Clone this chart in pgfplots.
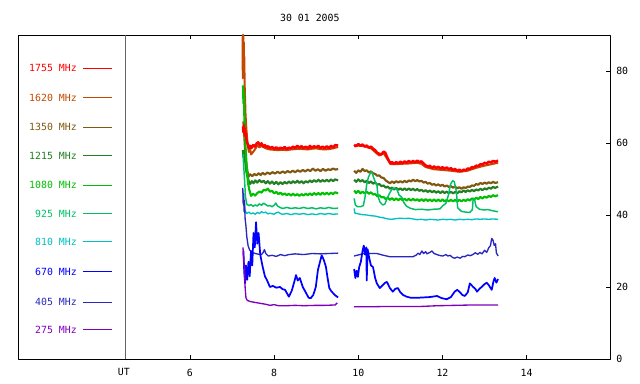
\documentclass[border=0pt]{standalone}
\usepackage{pgfplots}
\pgfplotsset{compat=1.18}
\usepackage{fontspec}
\setmainfont{DejaVu Sans Mono}
\definecolor{c1755}{RGB}{255,0,0}
\definecolor{c1620}{RGB}{196,72,0}
\definecolor{c1350}{RGB}{128,88,16}
\definecolor{c1215}{RGB}{34,128,34}
\definecolor{c1080}{RGB}{0,192,0}
\definecolor{c925}{RGB}{0,192,100}
\definecolor{c810}{RGB}{0,192,192}
\definecolor{c670}{RGB}{0,0,255}
\definecolor{c405}{RGB}{40,40,190}
\definecolor{c275}{RGB}{128,0,192}
\definecolor{cgray}{RGB}{100,100,100}
\begin{document}
\begin{tikzpicture}[line join=round]
\pgfplotsset{
  s/.style={no marks, line join=round},
}
\begin{axis}[
  name=ax,
  scale only axis,
  width=444pt, height=243pt,
  xmin=1.914, xmax=15.98, ymin=0, ymax=90,
  axis line style={line width=0.6pt},
  xtick={6,8,10,12,14},
  ytick={0,20,40,60,80},
  xtick pos=both, ytick pos=right, yticklabel pos=right,
  tick align=inside, major tick length=3pt,
  tick style={line width=0.6pt, black},
  font=\fontsize{7.4}{8}\selectfont,
  /pgf/number format/assume math mode=true,
  xticklabel style={anchor=center, yshift=-10.5pt},
  yticklabel style={anchor=west, inner sep=0pt, xshift=4.5pt},
  clip mode=individual,
]
% UT separator
\addplot[s, color=cgray, line width=0.7pt] coordinates {(4.456,0) (4.456,90)};
% legend samples
\addplot[s, color=c1755, line width=0.75pt] coordinates {(3.458,80.8) (4.147,80.8)};
\addplot[s, color=c1620, line width=0.75pt] coordinates {(3.458,72.5) (4.147,72.5)};
\addplot[s, color=c1350, line width=0.75pt] coordinates {(3.458,64.4) (4.147,64.4)};
\addplot[s, color=c1215, line width=0.75pt] coordinates {(3.458,56.4) (4.147,56.4)};
\addplot[s, color=c1080, line width=0.75pt] coordinates {(3.458,48.3) (4.147,48.3)};
\addplot[s, color=c925, line width=0.75pt] coordinates {(3.458,40.3) (4.147,40.3)};
\addplot[s, color=c810, line width=0.75pt] coordinates {(3.458,32.5) (4.147,32.5)};
\addplot[s, color=c670, line width=0.75pt] coordinates {(3.458,24.2) (4.147,24.2)};
\addplot[s, color=c405, line width=0.75pt] coordinates {(3.458,15.8) (4.147,15.8)};
\addplot[s, color=c275, line width=0.75pt] coordinates {(3.458,8.1) (4.147,8.1)};

% 1620 MHz
\addplot[s, color=c1620, line width=1.5pt] coordinates {(7.25,89.5)(7.255,78)(7.26,90)(7.265,82)(7.27,90)(7.275,84)(7.28,88)(7.285,80)(7.29,84)(7.30,76)(7.31,72)(7.32,68)(7.33,66)(7.34,64)(7.36,61)(7.38,59)(7.40,57.5)(7.43,58.4)(7.45,56.8)(7.50,57.5)(7.55,58.3)(7.60,59.4)(7.65,58.8)(7.70,59.2)(7.80,58.5)(7.90,58.2)(8.00,58.1)(8.10,58.0)(8.20,58.1)(8.30,58.0)(8.40,58.2)(8.50,58.3)(8.60,58.4)(8.70,58.3)(8.80,58.2)(8.90,58.4)(9.00,58.5)(9.10,58.3)(9.20,58.2)(9.30,58.3)(9.40,58.5)(9.52,58.9)};
\addplot[s, color=c1620, line width=1.5pt] coordinates {(9.90,59.1)(10.0,59.3)(10.1,59.2)(10.2,58.9)(10.3,58.5)(10.4,57.5)(10.5,56.5)(10.6,57.2)(10.68,55.7)(10.78,54.1)(10.9,54.1)(11.0,54.2)(11.2,54.3)(11.4,54.5)(11.5,54.2)(11.6,53.3)(11.8,52.7)(12.0,52.5)(12.2,52.3)(12.4,52.0)(12.6,52.3)(12.8,53.1)(13.0,53.7)(13.2,54.2)(13.32,54.5)};

% 1350 MHz
\addplot[s, color=c1350, line width=1.6pt] coordinates {(7.27,66)(7.29,62)(7.31,58)(7.33,55)(7.36,52.5)(7.39,50.6)(7.43,51.3)(7.48,50.8)(7.53,51.4)(7.58,51.0)(7.63,51.6)(7.68,51.1)(7.73,51.7)(7.78,51.2)(7.84,51.8)(7.90,51.4)(7.96,51.9)(8.02,51.5)(8.08,52.0)(8.14,51.6)(8.20,52.1)(8.26,51.7)(8.32,52.2)(8.38,51.8)(8.44,52.3)(8.50,51.9)(8.56,52.4)(8.62,52.0)(8.68,52.5)(8.74,52.1)(8.80,52.6)(8.86,52.2)(8.92,52.9)(8.98,52.3)(9.04,52.7)(9.10,52.2)(9.16,52.8)(9.22,52.3)(9.28,52.7)(9.34,52.5)(9.40,52.9)(9.46,52.6)(9.52,52.8)};
\addplot[s, color=c1350, line width=1.6pt] coordinates {(9.90,52.3)(9.95,51.7)(10.00,52.4)(10.05,52.0)(10.10,52.8)(10.15,52.2)(10.20,52.4)(10.25,51.8)(10.30,52.1)(10.35,51.6)(10.40,51.4)(10.45,50.9)(10.50,51.0)(10.55,50.4)(10.60,50.3)(10.65,49.6)(10.70,49.2)(10.75,48.8)(10.80,49.3)(10.85,48.9)(10.90,49.4)(10.95,49.0)(11.00,49.4)(11.05,49.0)(11.10,49.5)(11.15,49.1)(11.20,49.6)(11.25,49.3)(11.30,49.8)(11.35,49.4)(11.40,49.7)(11.45,49.3)(11.50,49.5)(11.55,49.0)(11.60,49.2)(11.65,48.7)(11.70,48.9)(11.75,48.4)(11.80,48.6)(11.85,48.2)(11.90,48.5)(11.95,48.1)(12.00,48.4)(12.05,47.9)(12.10,48.2)(12.15,47.8)(12.20,48.0)(12.25,47.6)(12.30,47.9)(12.35,47.4)(12.40,47.7)(12.45,47.3)(12.50,47.7)(12.55,47.5)(12.60,47.9)(12.65,47.8)(12.70,48.2)(12.75,48.1)(12.80,48.6)(12.85,48.4)(12.90,48.9)(12.95,48.6)(13.00,49.0)(13.05,48.7)(13.10,49.1)(13.15,48.8)(13.20,49.2)(13.25,48.9)(13.32,49.1)};

% 1215 MHz
\addplot[s, color=c1215, line width=1.6pt] coordinates {(7.26,58)(7.27,56)(7.28,57.5)(7.29,55.5)(7.30,56.5)(7.32,54)(7.34,52)(7.37,50.5)(7.40,49.3)(7.43,48.6)(7.47,49.4)(7.51,48.8)(7.55,49.6)(7.60,49.0)(7.65,49.7)(7.70,49.1)(7.75,49.5)(7.80,48.8)(7.85,49.4)(7.90,48.7)(7.95,49.3)(8.00,48.6)(8.05,49.2)(8.10,48.5)(8.15,49.1)(8.20,48.6)(8.25,49.2)(8.30,48.7)(8.35,49.3)(8.40,48.8)(8.45,49.4)(8.50,48.9)(8.55,49.5)(8.60,48.9)(8.65,49.4)(8.70,48.8)(8.75,49.4)(8.80,49.0)(8.85,49.6)(8.90,49.1)(8.95,49.7)(9.00,49.2)(9.05,49.8)(9.10,49.2)(9.15,49.7)(9.20,49.3)(9.25,49.8)(9.30,49.3)(9.35,49.9)(9.40,49.4)(9.45,49.9)(9.52,49.6)};
\addplot[s, color=c1215, line width=1.6pt] coordinates {(9.90,49.8)(9.95,49.2)(10.00,49.9)(10.05,49.3)(10.10,49.7)(10.15,49.1)(10.20,49.5)(10.25,48.9)(10.30,49.3)(10.35,48.7)(10.40,49.0)(10.45,48.4)(10.50,48.6)(10.55,48.0)(10.60,48.2)(10.65,47.6)(10.70,47.9)(10.75,47.3)(10.80,47.6)(10.85,47.1)(10.90,47.5)(10.95,47.0)(11.00,47.4)(11.05,46.9)(11.10,47.4)(11.15,46.9)(11.20,47.4)(11.25,46.9)(11.30,47.3)(11.35,46.8)(11.40,47.2)(11.45,46.7)(11.50,47.0)(11.55,46.5)(11.60,46.9)(11.65,46.4)(11.70,46.8)(11.75,46.3)(11.80,46.7)(11.85,46.2)(11.90,46.6)(11.95,46.1)(12.00,46.6)(12.05,46.1)(12.10,46.5)(12.15,46.0)(12.20,46.5)(12.25,46.0)(12.30,46.4)(12.35,46.0)(12.40,46.6)(12.45,46.3)(12.50,46.8)(12.55,46.4)(12.60,46.9)(12.65,46.5)(12.70,47.0)(12.75,46.6)(12.80,47.1)(12.85,46.8)(12.90,47.3)(12.95,46.9)(13.00,47.4)(13.05,47.1)(13.10,47.6)(13.15,47.3)(13.20,47.8)(13.25,47.5)(13.32,47.9)};

% 1080 MHz
\addplot[s, color=c1080, line width=1.6pt] coordinates {(7.26,76)(7.27,71)(7.28,74)(7.29,68)(7.30,65)(7.31,62)(7.32,59)(7.34,55)(7.36,51.5)(7.38,48.8)(7.41,47)(7.45,45.3)(7.50,45.9)(7.55,45.4)(7.60,46.1)(7.65,46.5)(7.70,46.2)(7.75,47.0)(7.80,46.8)(7.85,47.3)(7.90,46.5)(7.95,46.7)(8.00,46.0)(8.05,46.4)(8.10,45.8)(8.15,46.2)(8.20,45.6)(8.25,46.0)(8.30,45.5)(8.35,45.9)(8.40,45.4)(8.45,45.9)(8.50,45.4)(8.55,45.8)(8.60,45.3)(8.65,45.8)(8.70,45.4)(8.75,45.9)(8.80,45.5)(8.85,46.0)(8.90,45.5)(8.95,46.1)(9.00,45.6)(9.05,46.1)(9.10,45.6)(9.15,46.2)(9.20,45.7)(9.25,46.2)(9.30,45.7)(9.35,46.2)(9.40,45.8)(9.45,46.3)(9.52,46.0)};
\addplot[s, color=c1080, line width=1.6pt] coordinates {(9.90,46.8)(9.95,46.1)(10.00,46.7)(10.05,46.0)(10.10,46.5)(10.15,46.0)(10.20,46.5)(10.25,45.9)(10.30,46.3)(10.35,45.7)(10.40,45.8)(10.45,45.2)(10.50,45.5)(10.55,44.9)(10.60,45.0)(10.65,44.4)(10.70,44.8)(10.75,44.2)(10.80,44.7)(10.85,44.1)(10.90,44.6)(10.95,44.1)(11.00,44.6)(11.05,44.1)(11.10,44.5)(11.15,44.0)(11.20,44.5)(11.25,44.0)(11.30,44.5)(11.35,44.0)(11.40,44.4)(11.45,43.9)(11.50,44.4)(11.55,43.9)(11.60,44.4)(11.65,43.9)(11.70,44.3)(11.75,43.8)(11.80,44.3)(11.85,43.8)(11.90,44.3)(11.95,43.8)(12.00,44.3)(12.05,43.8)(12.10,44.2)(12.15,43.8)(12.20,44.2)(12.25,43.8)(12.30,44.2)(12.35,43.7)(12.40,44.2)(12.45,43.8)(12.50,44.2)(12.55,43.9)(12.60,44.4)(12.65,44.0)(12.70,44.6)(12.75,44.2)(12.80,44.8)(12.85,44.4)(12.90,45.0)(12.95,44.6)(13.00,45.1)(13.05,44.8)(13.10,45.3)(13.15,45.0)(13.20,45.5)(13.25,45.2)(13.32,45.5)};

% 925 MHz
\addplot[s, color=c925, line width=1.1pt] coordinates {(7.26,57)(7.28,53)(7.30,49)(7.32,45)(7.35,43)(7.40,42.6)(7.45,42.9)(7.50,42.4)(7.55,42.8)(7.60,42.5)(7.65,43.1)(7.70,42.7)(7.75,43.3)(7.80,42.9)(7.85,42.5)(7.90,42.6)(7.95,42.3)(8.00,42.7)(8.04,43.3)(8.08,42.5)(8.14,42.1)(8.20,41.8)(8.30,42.1)(8.40,41.8)(8.50,42.0)(8.60,41.8)(8.70,42.1)(8.80,41.8)(8.90,42.0)(9.00,41.7)(9.10,42.0)(9.20,41.8)(9.30,42.1)(9.40,41.8)(9.52,41.9)};
\addplot[s, color=c925, line width=1.1pt] coordinates {(9.90,44.6)(9.93,42.8)(9.98,42.3)(10.05,42.3)(10.12,42.6)(10.16,45.0)(10.20,48.5)(10.24,50.5)(10.28,51.5)(10.32,52.0)(10.36,50.5)(10.41,49.0)(10.44,48.5)(10.47,45.0)(10.52,43.5)(10.58,42.8)(10.63,43.0)(10.68,44.5)(10.74,46.0)(10.80,47.2)(10.86,47.5)(10.92,47.0)(10.97,45.5)(11.03,45.0)(11.08,43.5)(11.14,42.5)(11.23,41.9)(11.35,41.5)(11.50,41.6)(11.65,41.4)(11.80,41.6)(11.94,41.7)(12.00,42.5)(12.08,43.2)(12.14,45.5)(12.19,48.5)(12.24,49.5)(12.28,49.3)(12.33,46.5)(12.36,42.0)(12.45,41.0)(12.55,40.8)(12.65,40.7)(12.71,41.5)(12.73,44.7)(12.76,44.3)(12.80,42.3)(12.88,41.6)(12.98,41.4)(13.08,41.5)(13.18,41.2)(13.32,40.9)};

% 810 MHz
\addplot[s, color=c810, line width=1.0pt] coordinates {(7.26,46)(7.28,44)(7.30,42)(7.32,41)(7.35,40.4)(7.40,40.8)(7.45,40.3)(7.50,40.6)(7.55,40.2)(7.60,40.7)(7.65,40.4)(7.70,40.9)(7.75,40.6)(7.80,40.8)(7.85,40.3)(7.90,40.5)(8.00,40.2)(8.05,40.6)(8.10,40.8)(8.15,40.4)(8.20,40.2)(8.30,40.4)(8.40,40.1)(8.50,40.4)(8.60,40.2)(8.70,40.4)(8.80,40.1)(8.90,40.3)(9.00,40.1)(9.10,40.4)(9.20,40.2)(9.30,40.4)(9.40,40.2)(9.52,40.3)};
\addplot[s, color=c810, line width=1.0pt] coordinates {(9.90,41.8)(9.92,40.5)(10.0,40.3)(10.1,40.1)(10.2,40.0)(10.3,39.8)(10.4,39.7)(10.5,39.4)(10.6,39.2)(10.7,38.9)(10.8,38.8)(10.9,39.0)(11.0,39.1)(11.1,39.0)(11.2,39.1)(11.3,38.9)(11.4,38.7)(11.5,38.8)(11.6,38.6)(11.7,38.8)(11.8,38.7)(11.9,38.6)(12.0,38.8)(12.1,38.7)(12.2,38.8)(12.3,38.6)(12.4,38.8)(12.5,38.7)(12.6,38.8)(12.7,38.7)(12.8,38.9)(12.9,38.8)(13.0,38.9)(13.1,38.8)(13.2,38.9)(13.32,38.8)};

% 405 MHz
\addplot[s, color=c405, line width=1.0pt] coordinates {(7.255,47.5)(7.265,43)(7.275,46)(7.285,41)(7.295,44)(7.31,39)(7.33,37)(7.35,34)(7.38,31.5)(7.42,30.2)(7.47,29.6)(7.55,29.3)(7.63,29.1)(7.70,29.0)(7.74,29.6)(7.77,30.4)(7.80,29.3)(7.86,28.6)(7.95,28.8)(8.05,28.5)(8.15,29.0)(8.25,28.7)(8.35,29.0)(8.50,29.2)(8.70,29.0)(8.90,29.3)(9.10,29.2)(9.30,29.3)(9.52,29.4)};
\addplot[s, color=c405, line width=1.0pt] coordinates {(9.90,28.6)(10.0,28.9)(10.1,29.2)(10.16,29.4)(10.3,29.3)(10.44,29.3)(10.6,28.8)(10.75,28.4)(11.0,28.4)(11.3,28.4)(11.38,28.9)(11.42,29.4)(11.46,29.0)(11.51,30.0)(11.55,29.3)(11.6,29.8)(11.63,29.2)(11.7,29.6)(11.75,30.0)(11.8,29.3)(11.87,29.0)(11.95,28.7)(12.01,28.6)(12.08,29.0)(12.13,28.6)(12.18,28.8)(12.24,28.2)(12.29,28.0)(12.35,28.3)(12.42,28.0)(12.48,28.5)(12.53,28.4)(12.6,28.9)(12.66,28.7)(12.72,29.0)(12.78,29.5)(12.84,29.1)(12.89,29.6)(12.94,29.2)(13.0,30.2)(13.05,29.6)(13.1,30.9)(13.14,31.5)(13.17,33.5)(13.2,33.0)(13.23,31.5)(13.26,32.0)(13.28,29.5)(13.32,28.6)};

% 670 MHz
\addplot[s, color=c670, line width=1.3pt] coordinates {(7.27,30)(7.29,24)(7.31,21)(7.33,26)(7.36,22)(7.39,27)(7.42,23)(7.45,30)(7.48,26)(7.51,35)(7.54,31)(7.57,38)(7.60,32)(7.63,35)(7.67,29)(7.72,26)(7.78,23)(7.83,21.9)(7.90,20)(7.97,20.3)(8.05,19.8)(8.14,20)(8.20,19.4)(8.26,19.2)(8.35,17.3)(8.42,19)(8.48,21.5)(8.52,23.3)(8.56,21.8)(8.61,22.5)(8.68,20)(8.76,18.3)(8.82,17)(8.87,16.9)(8.93,17.8)(8.99,20)(9.04,24.7)(9.09,27)(9.13,28.8)(9.18,27.5)(9.23,25.6)(9.27,22.5)(9.31,19.7)(9.36,18.8)(9.40,18.3)(9.46,17.6)(9.52,17.1)};
\addplot[s, color=c670, line width=1.3pt] coordinates {(9.90,25)(9.93,22.5)(9.96,24.5)(9.99,22.8)(10.02,25.5)(10.06,27)(10.10,30)(10.13,31.5)(10.16,29)(10.19,31)(10.20,21.8)(10.22,30.5)(10.26,28)(10.30,26)(10.35,25.5)(10.40,22.5)(10.44,21)(10.51,19.7)(10.58,20.5)(10.64,21.2)(10.68,21.4)(10.75,19.7)(10.82,18.7)(10.88,19.5)(10.94,19.7)(11.00,18.5)(11.06,17.8)(11.15,17.3)(11.25,17)(11.40,17)(11.55,17.1)(11.70,17.2)(11.87,17.5)(11.98,16.9)(12.10,16.6)(12.20,17.2)(12.29,18.7)(12.35,19.2)(12.41,18.6)(12.47,17.8)(12.53,17.5)(12.60,18.5)(12.65,21)(12.69,20.5)(12.72,20.1)(12.78,19.5)(12.82,18.7)(12.88,19.5)(12.94,20.1)(13.00,20.8)(13.05,21.2)(13.10,20.5)(13.17,19.2)(13.21,21.5)(13.24,22.5)(13.28,21.2)(13.32,22.2)};

% 275 MHz
\addplot[s, color=c275, line width=1.0pt] coordinates {(7.26,31)(7.28,27)(7.30,24)(7.31,20)(7.33,17)(7.36,16.3)(7.42,16)(7.50,15.8)(7.60,15.6)(7.70,15.4)(7.80,15.2)(7.90,14.9)(8.00,15.1)(8.10,14.8)(8.30,14.8)(8.50,14.9)(8.70,14.8)(9.00,14.9)(9.20,14.9)(9.45,15.0)(9.50,15.6)};
\addplot[s, color=c275, line width=1.0pt] coordinates {(9.90,14.5)(10.3,14.5)(10.7,14.6)(11.1,14.6)(11.5,14.6)(11.9,14.8)(12.3,14.9)(12.7,15)(13.0,15)(13.32,15)};

% 1755 MHz
\addplot[s, color=c1755, line width=1.9pt] coordinates {(7.26,64.5)(7.27,63)(7.28,65)(7.29,63.5)(7.30,64)(7.31,62)(7.32,63)(7.34,61)(7.36,60)(7.38,59.5)(7.40,58.5)(7.43,59.2)(7.46,58.6)(7.50,59.4)(7.54,59.0)(7.58,59.8)(7.62,60.2)(7.66,59.5)(7.70,59.9)(7.74,59.0)(7.78,59.4)(7.82,58.8)(7.86,59.1)(7.90,58.5)(7.95,58.9)(8.00,58.4)(8.05,58.8)(8.10,58.3)(8.15,58.7)(8.20,58.4)(8.25,58.9)(8.30,58.3)(8.35,58.7)(8.40,58.5)(8.45,59.0)(8.50,58.6)(8.55,59.2)(8.60,58.7)(8.65,59.1)(8.70,58.6)(8.75,59.0)(8.80,58.5)(8.85,59.2)(8.90,58.7)(8.95,59.1)(9.00,58.8)(9.05,59.2)(9.10,58.6)(9.15,59.0)(9.20,58.5)(9.25,59.1)(9.30,58.6)(9.35,59.2)(9.40,58.8)(9.45,59.4)(9.52,59.3)};
\addplot[s, color=c1755, line width=1.9pt] coordinates {(9.90,59.5)(9.95,59.1)(10.00,59.7)(10.05,59.2)(10.10,59.6)(10.15,59.0)(10.20,59.3)(10.25,58.7)(10.30,59.0)(10.35,58.4)(10.40,58.0)(10.45,57.2)(10.50,57.0)(10.55,56.8)(10.60,57.6)(10.64,57.3)(10.68,56.2)(10.72,55.2)(10.76,54.3)(10.80,54.7)(10.85,54.2)(10.90,54.7)(10.95,54.3)(11.00,54.8)(11.05,54.4)(11.10,54.9)(11.15,54.5)(11.20,55.0)(11.25,54.6)(11.30,55.0)(11.35,54.6)(11.40,55.1)(11.45,54.7)(11.50,54.9)(11.55,54.3)(11.60,53.8)(11.65,53.4)(11.70,53.7)(11.75,53.1)(11.80,53.5)(11.85,53.0)(11.90,53.4)(11.95,52.9)(12.00,53.3)(12.05,52.8)(12.10,53.2)(12.15,52.7)(12.20,53.0)(12.25,52.5)(12.30,52.8)(12.35,52.2)(12.40,52.6)(12.45,52.1)(12.50,52.6)(12.55,52.4)(12.60,52.9)(12.65,52.8)(12.70,53.3)(12.75,53.2)(12.80,53.7)(12.85,53.6)(12.90,54.1)(12.95,54.0)(13.00,54.5)(13.05,54.3)(13.10,54.8)(13.15,54.6)(13.20,55.0)(13.25,54.8)(13.32,55.1)};

% legend labels
\node[anchor=east, inner sep=0pt, text=c1755] at (axis cs:3.316,80.8) {1755 MHz};
\node[anchor=east, inner sep=0pt, text=c1620] at (axis cs:3.316,72.5) {1620 MHz};
\node[anchor=east, inner sep=0pt, text=c1350] at (axis cs:3.316,64.4) {1350 MHz};
\node[anchor=east, inner sep=0pt, text=c1215] at (axis cs:3.316,56.4) {1215 MHz};
\node[anchor=east, inner sep=0pt, text=c1080] at (axis cs:3.316,48.3) {1080 MHz};
\node[anchor=east, inner sep=0pt, text=c925] at (axis cs:3.316,40.3) {925 MHz};
\node[anchor=east, inner sep=0pt, text=c810] at (axis cs:3.316,32.5) {810 MHz};
\node[anchor=east, inner sep=0pt, text=c670] at (axis cs:3.316,24.2) {670 MHz};
\node[anchor=east, inner sep=0pt, text=c405] at (axis cs:3.316,15.8) {405 MHz};
\node[anchor=east, inner sep=0pt, text=c275] at (axis cs:3.316,8.1) {275 MHz};
\node[anchor=center] at ([yshift=-9.5pt]axis cs:4.43,0) {UT};
\node[anchor=center] at ([yshift=12.75pt]rel axis cs:0.493,1) {30 01 2005};
\end{axis}
\path ([shift={(-13.5pt,-18.75pt)}]ax.south west) rectangle ([shift={(22.5pt,26.25pt)}]ax.north east);
\end{tikzpicture}
\end{document}
